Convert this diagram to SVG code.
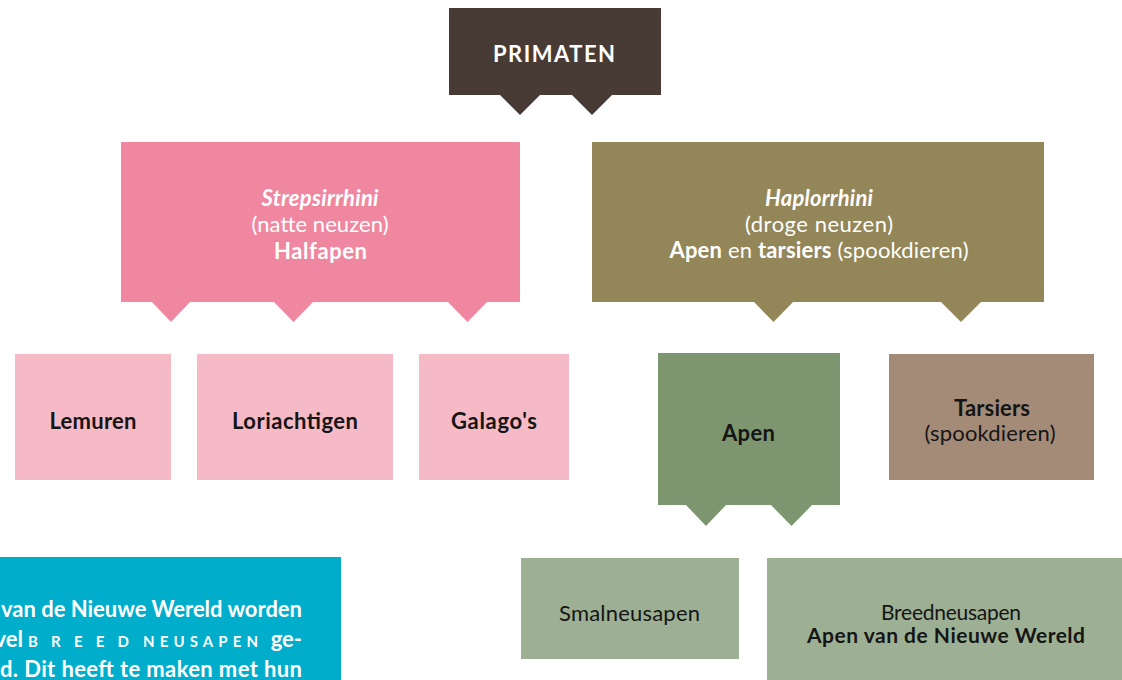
<svg xmlns="http://www.w3.org/2000/svg" width="1122" height="680" viewBox="0 0 1122 680">
<style>
text{font-family:Lato,"Noto Sans",sans-serif;text-anchor:middle;font-size:22px}
.w{fill:#ffffff}
.k{fill:#151515}
.b{font-weight:700}
.i{font-style:italic;font-weight:700}
.st{text-anchor:start}
.en{text-anchor:end}
text.f21{font-size:21px}
text.sc{font-size:15px}
</style>
<rect width="1122" height="680" fill="#ffffff"/>
<g id="connectors">
<polygon points="499,94 541,94 520,115" fill="#483b36"/>
<polygon points="571,94 613,94 592,115" fill="#483b36"/>
<polygon points="151,301 191,301 171,322" fill="#f087a0"/>
<polygon points="273,301 314,301 293.5,322" fill="#f087a0"/>
<polygon points="447,301 488,301 467.5,322" fill="#f087a0"/>
<polygon points="753,301 794,301 773.5,322" fill="#938659"/>
<polygon points="940,301 982,301 961,322" fill="#938659"/>
<polygon points="685,504 727,504 706,526" fill="#7e9670"/>
<polygon points="770,504 813,504 791.5,526" fill="#7e9670"/>
</g>
<g id="primaten">
<rect x="449" y="8" width="212" height="87" fill="#483b36"/>
<text x="554" y="62" class="w b" textLength="122" lengthAdjust="spacing">PRIMATEN</text>
</g>
<g id="strepsirrhini">
<rect x="121" y="142" width="399" height="160" fill="#f087a0"/>
<text x="320" y="205.5" class="w i" textLength="117" lengthAdjust="spacing">Strepsirrhini</text>
<text x="320" y="232" class="w" textLength="137" lengthAdjust="spacing">(natte neuzen)</text>
<text x="320.5" y="258.5" class="w b" textLength="93" lengthAdjust="spacing">Halfapen</text>
</g>
<g id="haplorrhini">
<rect x="592" y="142" width="452" height="160" fill="#938659"/>
<text x="819" y="205.5" class="w i" textLength="108" lengthAdjust="spacing">Haplorrhini</text>
<text x="819" y="232" class="w" textLength="148" lengthAdjust="spacing">(droge neuzen)</text>
<text x="819" y="258" class="w" textLength="299" lengthAdjust="spacing"><tspan class="b">Apen</tspan> en <tspan class="b">tarsiers</tspan> (spookdieren)</text>
</g>
<g id="lemuren">
<rect x="15" y="354" width="156" height="126" fill="#f6bac7"/>
<text x="93" y="428.5" class="k b" textLength="87" lengthAdjust="spacing">Lemuren</text>
</g>
<g id="loriachtigen">
<rect x="197" y="354" width="196" height="126" fill="#f6bac7"/>
<text x="295" y="428.5" class="k b" textLength="126" lengthAdjust="spacing">Loriachtigen</text>
</g>
<g id="galagos">
<rect x="419" y="354" width="150" height="126" fill="#f6bac7"/>
<text x="494" y="428.5" class="k b" textLength="86" lengthAdjust="spacing">Galago's</text>
</g>
<g id="apen">
<rect x="658" y="353" width="182" height="152" fill="#7e9670"/>
<text x="748.5" y="440.5" class="k b" textLength="53" lengthAdjust="spacing">Apen</text>
</g>
<g id="tarsiers">
<rect x="889" y="354" width="205" height="126" fill="#a48b78"/>
<text x="992" y="415.5" class="k b" textLength="76" lengthAdjust="spacing">Tarsiers</text>
<text x="990" y="440.5" class="k" textLength="131" lengthAdjust="spacing">(spookdieren)</text>
</g>
<g id="smalneusapen">
<rect x="521" y="558" width="218" height="101" fill="#9db093"/>
<text x="629.5" y="621" class="k" textLength="141" lengthAdjust="spacing">Smalneusapen</text>
</g>
<g id="breedneusapen">
<rect x="767" y="558" width="360" height="130" fill="#9db093"/>
<text x="951" y="619.5" class="k f21" textLength="140" lengthAdjust="spacing">Breedneusapen</text>
<text x="946" y="642.5" class="k b f21" textLength="278" lengthAdjust="spacing">Apen van de Nieuwe Wereld</text>
</g>
<g id="kader">
<rect x="-10" y="557" width="351" height="130" fill="#00adcb"/>
<text x="302" y="617" class="w b en" textLength="301" lengthAdjust="spacing">van de Nieuwe Wereld worden</text>
<text x="23" y="647" class="w b en">vel</text>
<text x="28" y="646.5" class="w b st sc" textLength="101" lengthAdjust="spacing">BREED</text>
<text x="143" y="646.5" class="w b st sc" textLength="115" lengthAdjust="spacing">NEUSAPEN</text>
<text x="302" y="647" class="w b en">ge-</text>
<text x="302" y="677" class="w b en" textLength="302" lengthAdjust="spacing">d. Dit heeft te maken met hun</text>
</g>
</svg>
